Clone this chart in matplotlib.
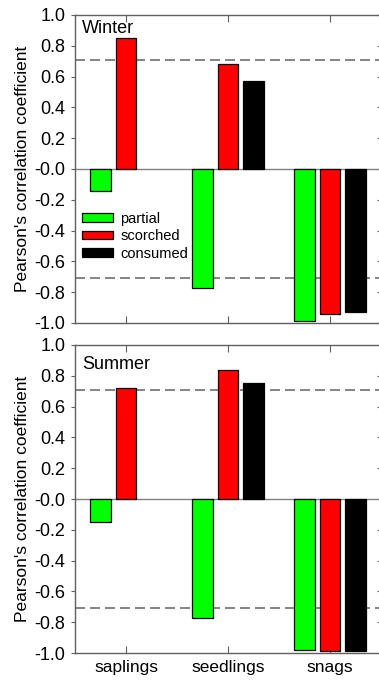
import matplotlib
matplotlib.use("Agg")
import matplotlib.pyplot as plt
import matplotlib.patches as mpatches
import numpy as np

plt.rcParams["font.family"] = ["Liberation Sans", "DejaVu Sans"]
plt.rcParams["axes.unicode_minus"] = False

categories = ["saplings", "seedlings", "snags"]
series = ["partial", "scorched", "consumed"]
colors = ["#00ff00", "#ff0000", "#000000"]

winter_partial = [-0.14, -0.77, -0.99]
winter_scorched = [0.85, 0.68, -0.94]
winter_consumed = [np.nan, 0.57, -0.93]

summer_partial = [-0.15, -0.77, -0.98]
summer_scorched = [0.72, 0.84, -0.99]
summer_consumed = [np.nan, 0.75, -0.985]

critical_r = 0.705

fig = plt.figure(figsize=(3.79, 6.81), dpi=100)
ax_top = fig.add_axes([0.1979, 0.5257, 0.8074, 0.4523])
ax_bot = fig.add_axes([0.1979, 0.0411, 0.8074, 0.4523])

spine_col = "#606060"
x = np.arange(len(categories))
width = 0.2
offsets = [-0.25, 0.0, 0.25]


def draw_panel(ax, values, season, title_y):
    ax.axhline(0, color="#808080", lw=1.0, zorder=1)
    for r in (critical_r, -critical_r):
        ax.axhline(r, color="#707070", lw=1.2, dashes=(6, 3), zorder=1)
    for vals, off, col in zip(values, offsets, colors):
        ax.bar(x + off, vals, width, color=col, edgecolor="black", lw=0.9, zorder=2)
    ax.set_xlim(-0.5, 2.5)
    ax.set_ylim(-1.0, 1.0)
    ax.set_yticks(np.arange(-1.0, 1.01, 0.2))
    ax.set_yticklabels([f"{v:.1f}" for v in np.arange(-1.0, 1.01, 0.2)])
    ax.set_xticks(x)
    ax.tick_params(axis="y", direction="out", length=3, color=spine_col,
                   labelsize=13, pad=4)
    ax.tick_params(axis="x", direction="in", length=5, color=spine_col,
                   top=True, labelsize=12.5, pad=5)
    sec = ax.secondary_yaxis("right")
    sec.set_yticks(np.arange(-1.0, 1.01, 0.2))
    sec.tick_params(direction="in", length=3, color=spine_col, labelright=False)
    sec.spines["right"].set_color(spine_col)
    for s in ax.spines.values():
        s.set_color(spine_col)
        s.set_linewidth(1.0)
    ax.set_ylabel("Pearson's correlation coefficient", fontsize=12.5, labelpad=3)
    ax.text(0.023, title_y, season, transform=ax.transAxes, fontsize=13,
            ha="left", va="top")


draw_panel(ax_top, [winter_partial, winter_scorched, winter_consumed], "Winter", 0.985)
ax_top.set_xticklabels([])
draw_panel(ax_bot, [summer_partial, summer_scorched, summer_consumed], "Summer", 0.965)
ax_bot.set_xticklabels(categories)

handles = [mpatches.Patch(facecolor=c, edgecolor="black", lw=0.9, label=s)
           for c, s in zip(colors, series)]
ax_top.legend(handles=handles, loc="upper left", bbox_to_anchor=(-0.01, 0.395),
              frameon=False, fontsize=10.5, handlelength=2.1, handleheight=0.55,
              labelspacing=0.25, handletextpad=0.5, borderaxespad=0.3)

fig.savefig("out.png", dpi=100)
